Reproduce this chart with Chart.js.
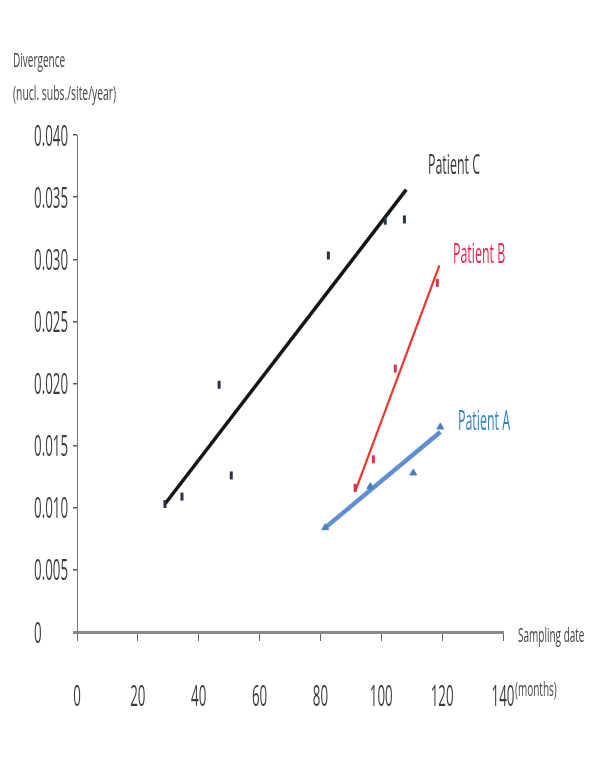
<!DOCTYPE html>
<html><head><meta charset="utf-8">
<script src="https://cdn.jsdelivr.net/npm/chart.js@4"></script>
<style>html,body{margin:0;padding:0;background:#fff}#wrap{width:600px;height:777px;position:relative}</style>
</head><body><div id="wrap"><canvas id="c"></canvas></div>
<script>
// ---- data ----
const patientA_x = [81.6, 96.4, 110.5, 119.4];
const patientA_y = [0.0084, 0.0117, 0.0128, 0.0165];
const patientB_x = [91.4, 97.4, 104.6, 118.4];
const patientB_y = [0.0116, 0.0139, 0.0212, 0.0281];
const patientC_x = [28.9, 34.5, 46.7, 50.7, 82.6, 101.3, 107.6];
const patientC_y = [0.0103, 0.0109, 0.0199, 0.0126, 0.0303, 0.0331, 0.0332];
const trendA_x = [81.6, 119.4], trendA_y = [0.0084, 0.0161];
const trendB_x = [91.4, 119.1], trendB_y = [0.0113, 0.0295];
const trendC_x = [28.9, 108.2], trendC_y = [0.0103, 0.0356];
const xTicks = [0, 20, 40, 60, 80, 100, 120, 140];
const xTickLabels = ['0', '20', '40', '60', '80', '100', '120', '140'];
const yTicks = [0, 0.005, 0.010, 0.015, 0.020, 0.025, 0.030, 0.035, 0.040];
const yTickLabels = ['0', '0.005', '0.010', '0.015', '0.020', '0.025', '0.030', '0.035', '0.040'];
const seriesLabels = ['Patient A', 'Patient B', 'Patient C'];
const yTitle = ['Divergence', '(nucl. subs./site/year)'];
const xTitle = ['Sampling date', '(months)'];

const zip = (xs, ys) => xs.map((x, i) => ({x: x, y: ys[i]}));
const FONT = '"Open Sans", "DejaVu Sans", sans-serif';

function txt(ctx, s, x, y, size, color, align, sx) {
  ctx.save();
  ctx.font = size + 'px ' + FONT;
  ctx.fillStyle = color;
  ctx.textBaseline = 'alphabetic';
  ctx.textAlign = align;
  ctx.translate(x, y);
  ctx.scale(sx, 1);
  ctx.fillText(s, 0, 0);
  ctx.restore();
}

const textPlugin = {
  id: 'textPlugin',
  afterDraw(chart) {
    const ctx = chart.ctx;
    const xs = chart.scales.x, ys = chart.scales.y;
    yTicks.forEach((v, i) => {
      txt(ctx, yTickLabels[i], 34, ys.getPixelForValue(v) + 10.5, 29, '#3c3c3c', 'left', 0.46);
    });
    xTicks.forEach((v, i) => {
      txt(ctx, xTickLabels[i], xs.getPixelForValue(v), 706, 29, '#3c3c3c', 'center', 0.46);
    });
    txt(ctx, yTitle[0], 13, 67, 20, '#454545', 'left', 0.5);
    txt(ctx, yTitle[1], 13, 100, 20, '#454545', 'left', 0.52);
    txt(ctx, xTitle[0], 518, 642, 20, '#454545', 'left', 0.5);
    txt(ctx, xTitle[1], 515, 696, 20, '#454545', 'left', 0.5);
    txt(ctx, seriesLabels[2], 428, 174, 27, '#3a3a3a', 'left', 0.46);
    txt(ctx, seriesLabels[1], 453, 263, 27, '#e3254f', 'left', 0.46);
    txt(ctx, seriesLabels[0], 458, 430, 27, '#2f7fc1', 'left', 0.46);
  }
};

new Chart(document.getElementById('c'), {
  type: 'scatter',
  data: {
    datasets: [
      {label: 'C points', data: zip(patientC_x, patientC_y), pointStyle: 'line', rotation: 90,
        radius: 4, borderWidth: 3, borderColor: '#2b3345', backgroundColor: '#2b3345'},
      {label: 'B points', data: zip(patientB_x, patientB_y), pointStyle: 'line', rotation: 90,
        radius: 4, borderWidth: 3, borderColor: '#d8344f', backgroundColor: '#d8344f'},
      {label: 'A points', data: zip(patientA_x, patientA_y), pointStyle: 'triangle',
        radius: 4, borderWidth: 1, borderColor: '#4d7fc4', backgroundColor: '#4d7fc4'},
      {label: 'C trend', data: zip(trendC_x, trendC_y), showLine: true, borderColor: '#151515',
        borderWidth: 3.5, pointRadius: 0},
      {label: 'B trend', data: zip(trendB_x, trendB_y), showLine: true, borderColor: '#e8372c',
        borderWidth: 2.2, pointRadius: 0},
      {label: 'A trend', data: zip(trendA_x, trendA_y), showLine: true, borderColor: '#5e8fd2',
        borderWidth: 4.5, pointRadius: 0}
    ]
  },
  options: {
    responsive: true, maintainAspectRatio: false, animation: false,
    layout: {padding: {left: 0, right: 97, top: 135, bottom: 0}},
    plugins: {legend: {display: false}, tooltip: {enabled: false}},
    scales: {
      x: {
        type: 'linear', min: 0, max: 140,
        ticks: {display: false, stepSize: 20},
        grid: {drawOnChartArea: false, drawTicks: true, tickLength: 9, color: '#666', lineWidth: 1},
        border: {display: true, color: '#8a8a8a', width: 3},
        afterFit(s) { s.height = 145; }
      },
      y: {
        type: 'linear', min: 0, max: 0.04,
        ticks: {display: false, stepSize: 0.005},
        grid: {drawOnChartArea: false, drawTicks: true, tickLength: 4,
          color: (c) => c.tick && c.tick.value === 0 ? '#8a8a8a' : '#555',
          lineWidth: (c) => c.tick && c.tick.value === 0 ? 3 : 1.5},
        border: {display: true, color: '#777', width: 1},
        afterFit(s) { s.width = 77; }
      }
    }
  },
  plugins: [textPlugin]
});
</script>
</body></html>
